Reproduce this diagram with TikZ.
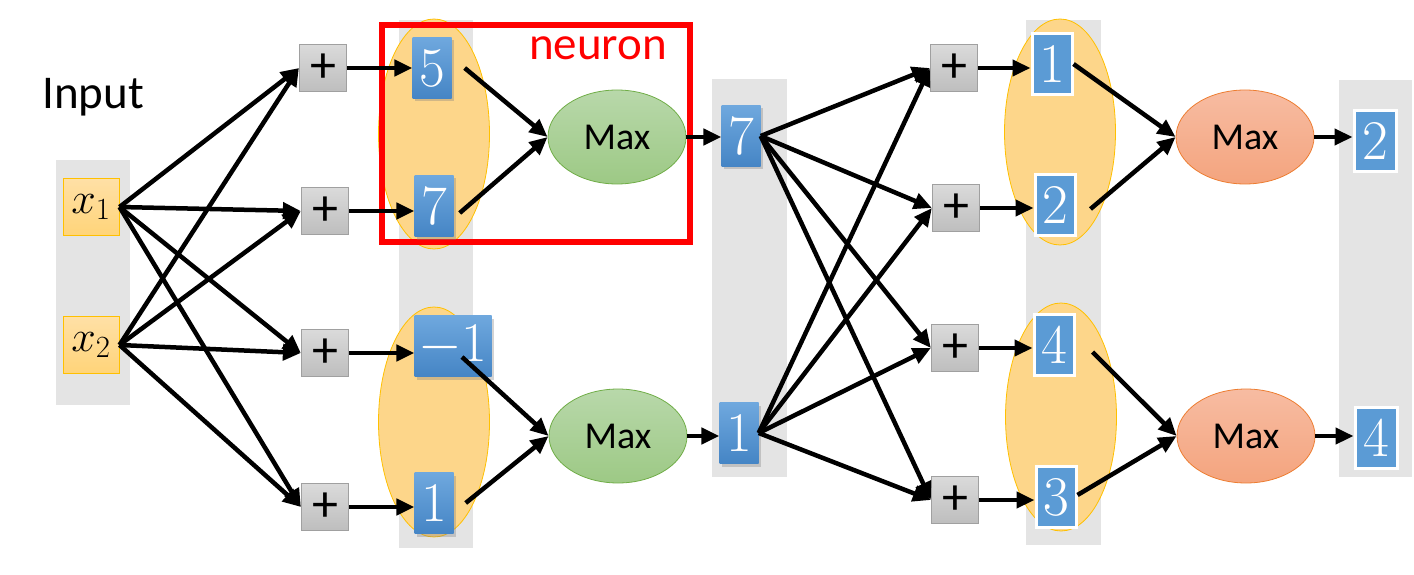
\documentclass[tikz,border=0pt]{standalone}
\usepackage{fix-cm}
\usepackage{fontspec}
\newfontfamily\calib{Carlito}
\usetikzlibrary{arrows.meta,shadows,shapes.geometric}
\definecolor{colgray}{HTML}{E4E4E4}
\definecolor{neurfill}{HTML}{FDD68A}
\definecolor{neurdraw}{HTML}{FFC000}
\definecolor{plustop}{HTML}{DADADA}
\definecolor{plusbot}{HTML}{BEBEBE}
\definecolor{plusdraw}{HTML}{A0A0A0}
\definecolor{bluetop}{HTML}{6FA8DE}
\definecolor{bluebot}{HTML}{4585C5}
\definecolor{blueflat}{HTML}{5B9BD5}
\definecolor{greentop}{HTML}{B8D8AA}
\definecolor{greenbot}{HTML}{9DC985}
\definecolor{greendraw}{HTML}{70AD47}
\definecolor{orgtop}{HTML}{F7BCA2}
\definecolor{orgbot}{HTML}{F4A47E}
\definecolor{orgdraw}{HTML}{ED7D31}
\definecolor{xtop}{HTML}{FFE0A6}
\definecolor{xbot}{HTML}{FFD479}
\begin{document}
\begin{tikzpicture}[x=1pt,y=-1pt,
  colbg/.style={fill=colgray,draw=none},
  inbox/.style={draw=neurdraw,line width=1pt,top color=xtop,bottom color=xbot,minimum width=56pt,minimum height=57pt,inner sep=0pt,font=\fontsize{44}{44}\selectfont},
  plusbox/.style={draw=plusdraw,line width=1.2pt,top color=plustop,bottom color=plusbot,minimum width=47pt,minimum height=47pt,inner sep=0pt,font=\calib\fontsize{52}{52}\selectfont},
  bluebox/.style={top color=bluetop,bottom color=bluebot,minimum width=39pt,minimum height=61pt,inner sep=0pt,text=white,font=\fontsize{56}{56}\selectfont,drop shadow={opacity=0.35,shadow xshift=2pt,shadow yshift=-3pt}},
  blueflatbox/.style={fill=blueflat,draw=white,line width=3pt,minimum width=40pt,minimum height=61pt,inner sep=0pt,text=white,font=\fontsize{56}{56}\selectfont},
  neur/.style={ellipse,fill=neurfill,draw=neurdraw,line width=0.8pt,minimum width=111pt,minimum height=230pt,inner sep=0pt},
  maxg/.style={ellipse,top color=greentop,bottom color=greenbot,draw=greendraw,line width=0.8pt,minimum width=138pt,minimum height=94pt,inner sep=0pt,font=\calib\fontsize{38}{38}\selectfont},
  maxo/.style={ellipse,top color=orgtop,bottom color=orgbot,draw=orgdraw,line width=0.8pt,minimum width=138pt,minimum height=94pt,inner sep=0pt,font=\calib\fontsize{38}{38}\selectfont},
  arr/.style={-{Triangle[length=18pt,width=16pt]},line width=4.5pt,black},
  lbl/.style={font=\calib\fontsize{47}{47}\selectfont,inner sep=0pt}
]
\useasboundingbox (0,0) rectangle (1414,575);
% gray columns
\fill[colbg] (56,160) rectangle (130,405);
\fill[colbg] (399,20) rectangle (473,548);
\fill[colbg] (712,79) rectangle (787,477);
\fill[colbg] (1026,20) rectangle (1101,545);
\fill[colbg] (1339,80) rectangle (1412,477);
% neuron ellipses
\node[neur] (e1) at (434,134) {};
\node[neur] (e2) at (434,422) {};
\node[neur,minimum height=226pt] (e3) at (1060,132) {};
\node[neur,minimum height=228pt] (e4) at (1061,417) {};
% red box
\draw[red,line width=6pt] (382,25) rectangle (690,242);
\node[lbl,text=red] (neuron) at (598,48) {neuron};
\node[lbl] (input) at (93,97) {Input};
% inputs
\node[inbox] (x1) at (91,207) {$x_1$};
\node[inbox] (x2) at (91,345) {$x_2$};
% plus boxes layer 1
\node[plusbox] (p1) at (323,68) {+};
\node[plusbox] (p2) at (325,211) {+};
\node[plusbox] (p3) at (325,353) {+};
\node[plusbox] (p4) at (325,507) {+};
% blue boxes layer 1
\node[bluebox] (b5) at (432,68) {5};
\node[bluebox] (b7) at (434,206) {7};
\node[bluebox,minimum width=77pt] (bm) at (453,346) {$-1$};
\node[bluebox] (b1) at (434,503) {1};
% max layer 1
\node[maxg] (m1) at (617,137) {Max};
\node[maxg] (m2) at (618,436) {Max};
% layer 2 outputs
\node[bluebox] (c7) at (741,136) {7};
\node[bluebox] (c1) at (739,433) {1};
% plus boxes layer 2
\node[plusbox] (q1) at (954,68) {+};
\node[plusbox] (q2) at (956,208) {+};
\node[plusbox] (q3) at (955,348) {+};
\node[plusbox] (q4) at (955,500) {+};
% blue boxes layer 2
\node[blueflatbox] (d1) at (1052,64) {1};
\node[blueflatbox] (d2) at (1055,205) {2};
\node[blueflatbox] (d4) at (1054,345) {4};
\node[blueflatbox] (d3) at (1056,497) {3};
% max layer 2
\node[maxo] (n1) at (1245,137) {Max};
\node[maxo] (n2) at (1246,436) {Max};
% outputs
\node[blueflatbox,minimum width=42pt] (o2) at (1375,141) {2};
\node[blueflatbox,minimum width=42pt] (o4) at (1376,438) {4};
% arrows inputs -> plus
\foreach \p in {p1,p2,p3,p4}{
  \draw[arr] (x1.east) -- (\p.west);
  \draw[arr] (x2.east) -- (\p.west);
}
\draw[arr] (p1.east) -- (b5.west);
\draw[arr] (p2.east) -- (p2.east -| b7.west);
\draw[arr] (p3.east) -- (p3.east -| bm.west);
\draw[arr] (p4.east) -- (p4.east -| b1.west);
\draw[arr] ([xshift=13pt]b5.east) -- (m1.west);
\draw[arr] ([xshift=6pt,yshift=-7pt]b7.east) -- (m1.west);
\draw[arr] ([xshift=9pt,yshift=-11pt]bm.center) -- (m2.west);
\draw[arr] ([xshift=12pt]b1.east) -- (m2.west);
\draw[arr] (m1.east) -- (m1.east -| c7.west);
\draw[arr] (m2.east) -- (m2.east -| c1.west);
\foreach \q in {q1,q2,q3,q4}{
  \draw[arr] (c7.east) -- (\q.west);
  \draw[arr] (c1.east) -- (\q.west);
}
\draw[arr] (q1.east) -- (q1.east -| d1.west);
\draw[arr] (q2.east) -- (q2.east -| d2.west);
\draw[arr] (q3.east) -- (q3.east -| d4.west);
\draw[arr] (q4.east) -- (q4.east -| d3.west);
\draw[arr] (d1.east) -- (n1.west);
\draw[arr] ([xshift=14pt,yshift=-4pt]d2.east) -- (n1.west);
\draw[arr] ([xshift=17pt,yshift=-7pt]d4.east) -- (n2.west);
\draw[arr] ([yshift=2pt]d3.east) -- (n2.west);
\draw[arr] (n1.east) -- (n1.east -| o2.west);
\draw[arr] (n2.east) -- (n2.east -| o4.west);
\end{tikzpicture}
\end{document}
